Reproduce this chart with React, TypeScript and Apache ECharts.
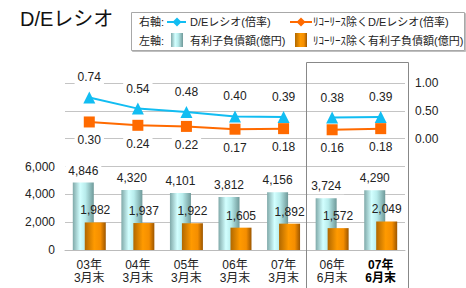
import React, { useEffect, useRef } from "react";
import * as echarts from "echarts";

const categories = ["03年\n3月末", "04年\n3月末", "05年\n3月末", "06年\n3月末", "07年\n3月末", "06年\n6月末", "07年\n6月末"];
const debtValues = [4846, 4320, 4101, 3812, 4156, 3724, 4290];
const debtExLeaseValues = [1982, 1937, 1922, 1605, 1892, 1572, 2049];
const deRatio = [0.74, 0.54, 0.48, 0.40, 0.39, 0.38, 0.39];
const deRatioExLease = [0.30, 0.24, 0.22, 0.17, 0.18, 0.16, 0.18];
const leftTicks = [0, 2000, 4000, 6000];
const rightTicks = [0, 0.5, 1.0];
const breakIndex = 5;

const FONT = "'Liberation Sans', 'Noto Sans CJK JP', sans-serif";
const BLUE = "#12bdf2";
const ORANGE = "#ff6a00";

const fmtThousands = (n: number) => String(n).replace(/\B(?=(\d{3})+(?!\d))/g, ",");

const splitBefore = (arr: number[]) => arr.map((v, i) => (i < breakIndex ? v : "-"));
const splitAfter = (arr: number[]) => arr.map((v, i) => (i >= breakIndex ? v : "-"));

const tealGrad = () =>
  new echarts.graphic.LinearGradient(0, 0, 1, 0, [
    { offset: 0, color: "#80a9a9" },
    { offset: 0.35, color: "#d2ffff" },
    { offset: 0.6, color: "#b8ecec" },
    { offset: 1, color: "#6f9999" },
  ]);
const orangeGrad = () =>
  new echarts.graphic.LinearGradient(0, 0, 1, 0, [
    { offset: 0, color: "#b06800" },
    { offset: 0.45, color: "#ff9a00" },
    { offset: 0.75, color: "#f58e00" },
    { offset: 1, color: "#9c5600" },
  ]);

const diamond = (cx: number, cy: number, r: number, color: string) => ({
  type: "polygon",
  shape: { points: [[cx, cy - r], [cx + r, cy], [cx, cy + r], [cx - r, cy]] },
  style: { fill: color },
});

export default function App() {
  const ref = useRef<HTMLDivElement>(null);
  useEffect(() => {
    if (!ref.current) return;
    const chart = echarts.init(ref.current, null, { renderer: "svg" });
    const lineLabel = (pos: string, dist: number) => ({
      show: true,
      position: pos,
      distance: dist,
      fontSize: 12,
      fontFamily: FONT,
      color: "#222",
      backgroundColor: "#fff",
      padding: [2, 3],
      formatter: (p: any) => Number(p.value).toFixed(2),
    });
    const lineSeries = (data: any[], color: string, symbol: string, size: number, pos: string, dist: number) => ({
      type: "line",
      yAxisIndex: 1,
      data,
      symbol,
      symbolSize: size,
      itemStyle: { color },
      lineStyle: { color, width: 2 },
      label: lineLabel(pos, dist),
      z: 5,
    });
    const option: any = {
      animation: false,
      textStyle: { fontFamily: FONT },
      grid: { left: 65, right: 61, top: 83, bottom: 38 },
      xAxis: {
        type: "category",
        data: categories,
        axisLine: { show: true, lineStyle: { color: "#bbb" } },
        axisTick: { show: false },
        axisLabel: {
          interval: 0,
          hideOverlap: false,
          margin: 8,
          fontSize: 12,
          lineHeight: 13,
          color: "#222",
          fontFamily: FONT,
          formatter: (v: string, i: number) =>
            i === categories.length - 1 ? v.split("\n").map((s) => `{b|${s}}`).join("\n") : v,
          rich: { b: { fontWeight: "bold", fontSize: 12, lineHeight: 13, color: "#000", fontFamily: FONT } },
        },
      },
      yAxis: [
        {
          type: "value",
          min: 0,
          max: 12000,
          interval: 2000,
          axisLine: { show: false },
          axisTick: { show: false },
          splitLine: { lineStyle: { color: "#c4c4c4", width: 1 } },
          axisLabel: {
            margin: 10,
            fontSize: 12,
            color: "#222",
            fontFamily: FONT,
            formatter: (v: number) => (leftTicks.indexOf(v) >= 0 ? fmtThousands(v) : ""),
          },
        },
        {
          type: "value",
          min: -2,
          max: 1,
          interval: 0.5,
          position: "right",
          axisLine: { show: false },
          axisTick: { show: false },
          splitLine: { show: false },
          axisLabel: {
            margin: 10,
            fontSize: 12,
            color: "#222",
            fontFamily: FONT,
            formatter: (v: number) => (rightTicks.some((t) => Math.abs(t - v) < 1e-9) ? v.toFixed(2) : ""),
          },
        },
      ],
      series: [
        {
          type: "bar",
          yAxisIndex: 0,
          data: debtValues,
          barWidth: 21,
          barGap: "-43%",
          itemStyle: { color: tealGrad() },
          label: {
            show: true,
            position: "top",
            distance: 4,
            fontSize: 12,
            fontFamily: FONT,
            color: "#222",
            backgroundColor: "#fff",
            padding: [2, 3],
            formatter: (p: any) => fmtThousands(p.value),
          },
        },
        {
          type: "bar",
          yAxisIndex: 0,
          data: debtExLeaseValues,
          barWidth: 21,
          barGap: "-43%",
          itemStyle: { color: orangeGrad() },
          label: {
            show: true,
            position: "top",
            distance: 6,
            fontSize: 12,
            fontFamily: FONT,
            color: "#222",
            formatter: (p: any) => fmtThousands(p.value),
          },
        },
        lineSeries(splitBefore(deRatio), BLUE, "triangle", 12, "top", 6),
        lineSeries(splitAfter(deRatio), BLUE, "triangle", 12, "top", 6),
        lineSeries(splitBefore(deRatioExLease), ORANGE, "rect", 11, "bottom", 5),
        lineSeries(splitAfter(deRatioExLease), ORANGE, "rect", 11, "bottom", 5),
      ],
      graphic: [
        {
          type: "text",
          left: 20,
          top: 9,
          style: { text: "D/Eレシオ", fontSize: 20, fontFamily: FONT, fill: "#111" },
        },
        {
          type: "polyline",
          shape: { points: [[306.5, 288], [306.5, 62.5], [408.5, 62.5], [408.5, 288]] },
          style: { stroke: "#888", lineWidth: 1, fill: "none" },
          z: 10,
        },
        {
          type: "rect",
          shape: { x: 131.5, y: 12.5, width: 333, height: 38 },
          style: { fill: "#fff", stroke: "#a8a8a8", lineWidth: 1, shadowColor: "rgba(0,0,0,0.25)", shadowOffsetX: 1, shadowOffsetY: 1, shadowBlur: 1 },
        },
        { type: "text", x: 139, y: 22, style: { text: "右軸:", fontSize: 11, fontFamily: FONT, fill: "#222", verticalAlign: "middle" } },
        { type: "text", x: 139, y: 41, style: { text: "左軸:", fontSize: 11, fontFamily: FONT, fill: "#222", verticalAlign: "middle" } },
        { type: "line", shape: { x1: 167, y1: 22, x2: 186, y2: 22 }, style: { stroke: BLUE, lineWidth: 2 } },
        diamond(177, 22, 4.5, BLUE),
        { type: "text", x: 190, y: 22, style: { text: "D/Eレシオ(倍率)", fontSize: 11, fontFamily: FONT, fill: "#222", verticalAlign: "middle" } },
        { type: "line", shape: { x1: 290, y1: 22, x2: 312, y2: 22 }, style: { stroke: ORANGE, lineWidth: 2 } },
        diamond(301, 22, 4.5, ORANGE),
        { type: "text", x: 313, y: 22, style: { text: "ﾘｺｰﾘｰｽ除くD/Eレシオ(倍率)", fontSize: 11, fontFamily: FONT, fill: "#222", verticalAlign: "middle" } },
        { type: "rect", shape: { x: 171, y: 33, width: 12, height: 14 }, style: { fill: tealGrad() } },
        { type: "text", x: 190, y: 41, style: { text: "有利子負債額(億円)", fontSize: 11, fontFamily: FONT, fill: "#222", verticalAlign: "middle" } },
        { type: "rect", shape: { x: 295, y: 33, width: 12, height: 14 }, style: { fill: orangeGrad() } },
        { type: "text", x: 313, y: 41, style: { text: "ﾘｺｰﾘｰｽ除く有利子負債額(億円)", fontSize: 11, fontFamily: FONT, fill: "#222", verticalAlign: "middle" } },
      ],
    };
    chart.setOption(option);
    return () => chart.dispose();
  }, []);
  return <div ref={ref} style={{ position: "absolute", left: 0, top: 0, width: 466, height: 288 }} />;
}
